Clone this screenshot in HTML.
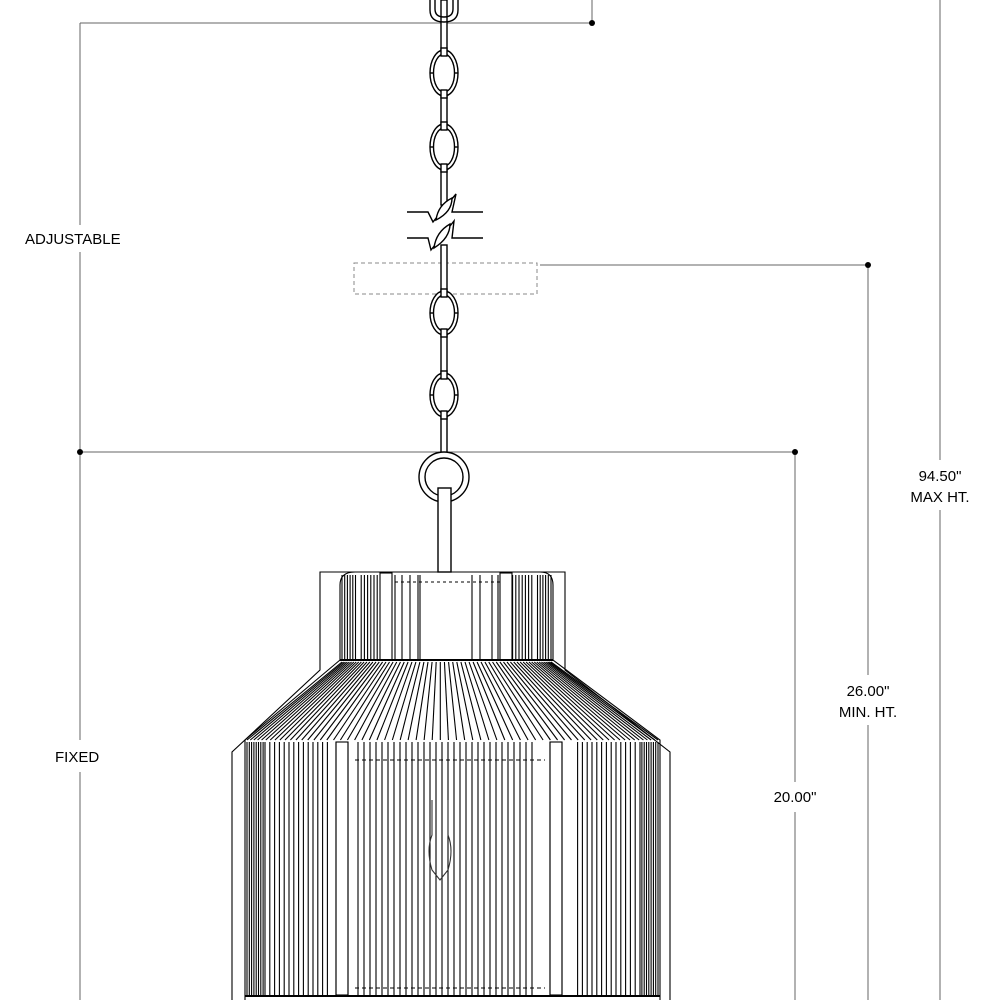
<!DOCTYPE html>
<html><head><meta charset="utf-8"><style>
html,body{margin:0;padding:0;background:#fff;}
svg{display:block;}
text{font-family:"Liberation Sans",sans-serif;font-size:15px;fill:#000;}
</style></head><body>
<svg id="s" width="1000" height="1000" viewBox="0 0 1000 1000" xmlns="http://www.w3.org/2000/svg">
<g stroke="#666" stroke-width="1" fill="none">
<line x1="80" y1="23" x2="592" y2="23"/>
<line x1="592" y1="0" x2="592" y2="23"/>
<line x1="80" y1="23" x2="80" y2="225"/>
<line x1="80" y1="252" x2="80" y2="740"/>
<line x1="80" y1="772" x2="80" y2="1000"/>
<line x1="80" y1="452" x2="795" y2="452"/>
<line x1="795" y1="452" x2="795" y2="782"/>
<line x1="795" y1="812" x2="795" y2="1000"/>
<line x1="540" y1="265" x2="868" y2="265"/>
<line x1="868" y1="265" x2="868" y2="675"/>
<line x1="868" y1="725" x2="868" y2="1000"/>
<line x1="940" y1="0" x2="940" y2="460"/>
<line x1="940" y1="510" x2="940" y2="1000"/>
</g>
<g fill="#000">
<circle cx="592" cy="23" r="3"/><circle cx="80" cy="452" r="3"/><circle cx="795" cy="452" r="3"/><circle cx="868" cy="265" r="3"/>
</g>
<text x="25" y="244">ADJUSTABLE</text>
<text x="55" y="762">FIXED</text>
<text x="795" y="802" text-anchor="middle">20.00"</text>
<text x="868" y="696" text-anchor="middle">26.00"</text>
<text x="868" y="717" text-anchor="middle">MIN. HT.</text>
<text x="940" y="481" text-anchor="middle">94.50"</text>
<text x="940" y="502" text-anchor="middle">MAX HT.</text>
<rect x="354" y="263" width="183" height="31" fill="none" stroke="#888" stroke-dasharray="4,3"/>
<g id="chain" stroke="#000" stroke-width="1.4" fill="none"></g>
<g id="shade" stroke="#000" stroke-width="1.1" fill="none"></g>
</svg>
<script>
var NS="http://www.w3.org/2000/svg";
function el(p,t,a){var e=document.createElementNS(NS,t);for(var k in a)e.setAttribute(k,a[k]);p.appendChild(e);return e;}
var c=document.getElementById('chain'),cx=444;
[[0,50],[90,130],[165,205],[245,295],[330,378],[414,458]].forEach(function(r){
 el(c,'rect',{x:cx-3,y:r[0],width:6,height:r[1]-r[0],fill:'#fff'});});
el(c,'path',{d:'M430 0 V10 Q430 22 444 22 Q458 22 458 10 V0'});
el(c,'path',{d:'M435 0 V9 Q435 17 444 17 Q453 17 453 9 V0'});
[[73,23],[147,23],[313,22],[395,22]].forEach(function(o){
 el(c,'ellipse',{cx:cx,cy:o[0],rx:14,ry:o[1],fill:'#fff'});
 el(c,'ellipse',{cx:cx,cy:o[0],rx:10.5,ry:o[1]-4});
 el(c,'line',{x1:cx-14,y1:o[0],x2:cx-10,y2:o[0]});el(c,'line',{x1:cx+10,y1:o[0],x2:cx+14,y2:o[0]});
 el(c,'rect',{x:cx-3,y:o[0]-o[1]-2,width:6,height:8,fill:'#fff'});
 el(c,'rect',{x:cx-3,y:o[0]+o[1]-6,width:6,height:8,fill:'#fff'});
});
el(c,'path',{d:'M407 212 H428 L433 222 L456 194 L452 212 H483'});
el(c,'path',{d:'M407 238 H428 L431 250 L454 221 L452 238 H483'});
el(c,'path',{d:'M436 220 Q438 205 452 198 Q452 212 436 220 Z',fill:'#fff'});
el(c,'path',{d:'M434 248 Q436 232 450 224 Q450 238 434 248 Z',fill:'#fff'});
el(c,'circle',{cx:cx,cy:477,r:25,fill:'#fff'});el(c,'circle',{cx:cx,cy:477,r:19});
el(c,'rect',{x:438,y:488,width:13,height:84,fill:'#fff'});
var s=document.getElementById('shade');
el(s,'path',{d:'M232 1000 V752 L320 670 V572 H565 V670 L670 752 V1000'});
el(s,'path',{d:'M340 660 V585 Q340 572 355 572 H540 Q553 572 553 585 V660'});
el(s,'path',{d:'M245 1000 V740 L340 660 H553 L660 740 V1000'});
function vl(x,y1,y2){el(s,'line',{x1:x,y1:y1,x2:x,y2:y2});}
for(var i=0;i<13;i++){var x=342+i*(i<6?2.7:3.2);vl(x,575,660);vl(553-(x-340),575,660);}
[395,402,410,418,420,472,480,492,498].forEach(function(x){vl(x,575,660);});
el(s,'rect',{x:380,y:573,width:12,height:87,fill:'#fff'});
el(s,'rect',{x:500,y:573,width:12,height:87,fill:'#fff'});
el(s,'line',{x1:395,y1:582,x2:500,y2:582,'stroke-dasharray':'3,3'});
for(var i=0;i<66;i++){var u=i/65;var t=0.5-0.5*Math.cos(Math.PI*u);t=(t*0.5+u*0.5);
 var xt=342+t*209,xb=247+t*411;
 el(s,'line',{x1:xt,y1:662,x2:xb,y2:740});}
el(s,'line',{x1:340,y1:660,x2:553,y2:660,'stroke-width':2});
var xs=[];
for(var i=0;i<22;i++){var d=i<8?i*2.3:18+(i-8)*4.8;xs.push(247+d);xs.push(658-d);}
for(var x=358;x<=532;x+=6)xs.push(x);
xs.forEach(function(x){vl(x,742,995);});
el(s,'rect',{x:336,y:742,width:12,height:253,fill:'#fff'});
el(s,'rect',{x:550,y:742,width:12,height:253,fill:'#fff'});
vl(336,742,995);vl(348,742,995);vl(550,742,995);vl(562,742,995);
el(s,'line',{x1:355,y1:760,x2:545,y2:760,'stroke-dasharray':'4,3'});
el(s,'line',{x1:355,y1:988,x2:545,y2:988,'stroke-dasharray':'4,3'});
el(s,'line',{x1:245,y1:996,x2:660,y2:996,'stroke-width':2});
el(s,'path',{d:'M432 800 V835 Q426 850 432 870 L440 880 L448 870 Q454 850 448 835 V800',stroke:'#333'});
</script>
</body></html>
